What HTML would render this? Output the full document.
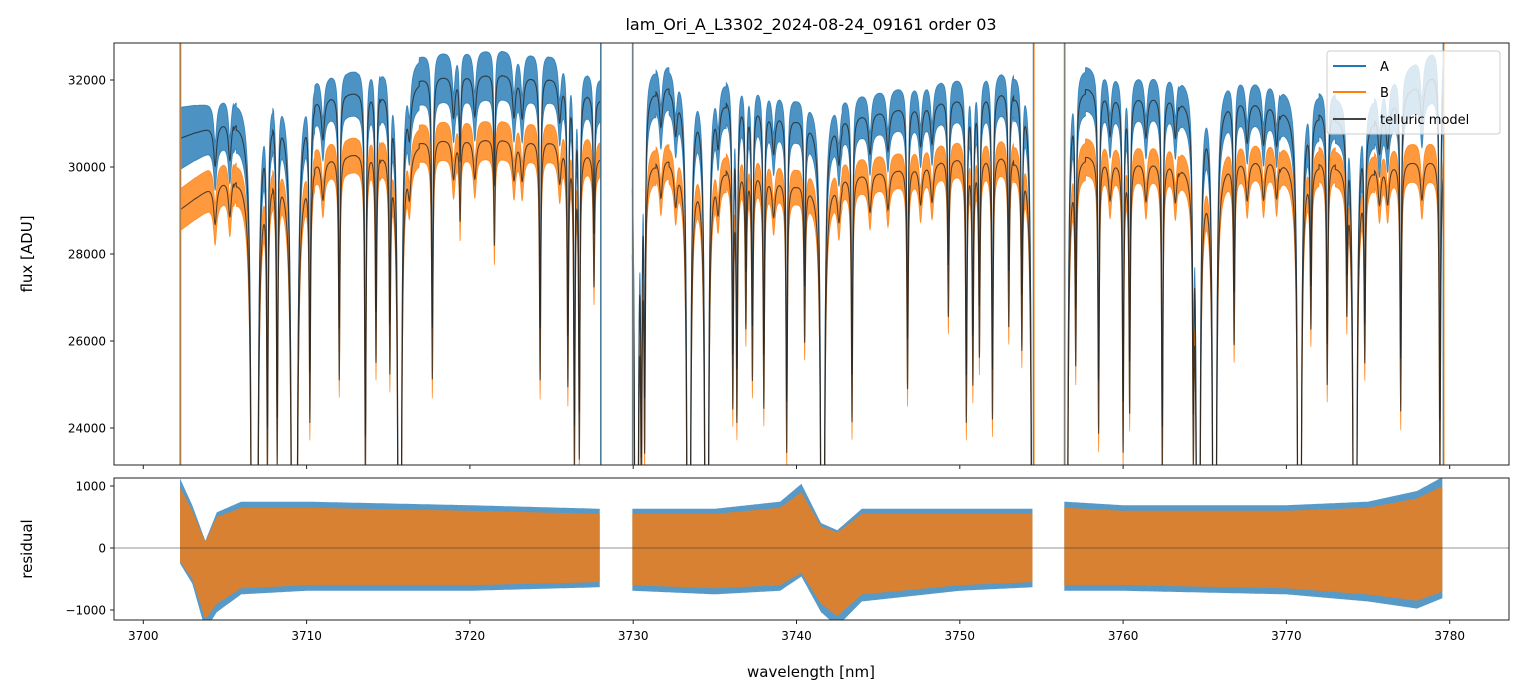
<!DOCTYPE html>
<html><head><meta charset="utf-8"><style>
html,body{margin:0;padding:0;background:#fff;overflow:hidden;width:1523px;height:696px;}
svg{display:block;}
svg text{font-family:"DejaVu Sans","Liberation Sans",sans-serif;fill:#000;}
</style></head><body>
<svg id="c" width="1523" height="696" xmlns="http://www.w3.org/2000/svg">
<rect width="1523" height="696" fill="#fff"/>
<text x="811" y="30" font-size="16" text-anchor="middle">lam_Ori_A_L3302_2024-08-24_09161  order 03</text>
<defs>
<clipPath id="cTop"><rect x="114" y="43" width="1395" height="422"/></clipPath>
<clipPath id="cBot"><rect x="114" y="478" width="1395" height="142"/></clipPath>
</defs>
<g id="topG" clip-path="url(#cTop)"></g>
<g id="botG" clip-path="url(#cBot)"></g>
<g id="axesG"></g>
<text x="0" y="0" font-size="15" text-anchor="middle" transform="translate(32,254) rotate(-90)">flux [ADU]</text>
<text x="0" y="0" font-size="15" text-anchor="middle" transform="translate(32,549) rotate(-90)">residual</text>
<text x="811" y="677" font-size="15" text-anchor="middle">wavelength [nm]</text>
<g>
<rect x="1327" y="51" width="173" height="83" rx="3" fill="#fff" fill-opacity="0.8" stroke="#ccc"/>
<line x1="1333" y1="66" x2="1366" y2="66" stroke="#1f77b4" stroke-width="2"/>
<text x="1380" y="71" font-size="13">A</text>
<line x1="1333" y1="92" x2="1366" y2="92" stroke="#ff7f0e" stroke-width="2"/>
<text x="1380" y="97" font-size="13">B</text>
<line x1="1333" y1="119" x2="1366" y2="119" stroke="#444" stroke-width="2"/>
<text x="1380" y="124" font-size="13">telluric model</text>
</g>
</svg>
<script>
// ---- data ----
const segments = [[3702.25,3728.0],[3729.95,3754.5],[3756.4,3779.6]];
const lineWl =    [3706.73,3706.9,3707.6,3708.2,3709.2,3709.3,3710.2,3712.0,3713.6,3714.25,3715.1,3715.7,3717.7,3719.4,3721.5,3724.3,3726.0,3726.4,3726.7,3727.6,
                   3730.2,3730.5,3730.7,3733.4,3734.5,3736.1,3736.35,3736.9,3737.3,3738.0,3739.4,3740.5,3741.6,3743.4,3746.8,3749.3,3750.4,3750.8,3751.2,3752.0,3753.0,3753.8,3754.5,
                   3756.5,3757.1,3758.5,3760.0,3760.4,3762.4,3764.3,3764.6,3765.6,3766.8,3770.8,3771.5,3772.5,3773.7,3774.2,3774.8,3777.0,3779.4,
                   3704.4,3705.3,3711.0,3716.3,3719.0,3720.3,3722.7,3723.2,3725.5,3731.7,3732.6,3735.2,3738.6,3742.6,3744.5,3745.6,3747.6,3748.3,3755.0,3759.2,3761.4,3763.2,3767.6,3768.6,3769.4,3775.7,3776.2,3778.3];
const lineDepth = [1.0,1.0,0.22,0.22,1.0,1.0,0.19,0.17,0.25,0.16,0.16,1.0,0.18,0.06,0.08,0.18,0.18,0.24,0.23,0.10,
                   1.0,0.22,0.2,1.0,1.0,0.18,0.19,0.12,0.16,0.18,0.21,0.12,1.0,0.19,0.17,0.12,0.2,0.17,0.15,0.2,0.13,0.14,1.0,
                   1.0,0.15,0.21,0.22,0.19,0.24,0.19,1.0,1.0,0.14,1.0,0.12,0.17,0.1,1.0,0.14,0.19,0.25,
                   0.03,0.03,0.03,0.03,0.03,0.03,0.03,0.03,0.03,0.03,0.03,0.03,0.03,0.03,0.03,0.03,0.03,0.03,0.03,0.03,0.03,0.03,0.03,0.03,0.03,0.03,0.03,0.03];
const contWl = [3702.2,3704,3706,3710,3714,3718,3722,3726,3728,3730,3733,3737,3740,3743,3746,3750,3754.5,3756.4,3760,3765,3770,3775,3778,3779.6];
const contA  = [30650,30900,31200,31550,31800,32100,32150,32050,31550,31900,31900,31500,31100,31150,31350,31600,31850,31950,31650,31650,31400,31100,31900,32300];
const contB  = [29000,29500,29900,30100,30400,30650,30650,30600,30200,30250,30200,30000,29600,29800,29950,30250,30300,30350,30150,30100,30200,30050,30150,30200];
const noiseA = [900,700,650,600,650,700,700,650,600,650,600,600,600,600,600,600,600,650,600,600,600,650,700,700];
const noiseB = [600,600,550,500,500,550,550,550,500,500,500,500,500,500,500,500,500,550,500,500,500,500,550,550];
const resWl =  [3702.2,3703,3703.8,3704.5,3706,3710,3720,3728, 3730,3735,3739,3740.3,3741.5,3742.5,3744,3750,3754.5, 3756.4,3760,3770,3775,3778,3779.6];
const resUp =  [1000,600,100,500,650,650,600,550, 550,550,650,900,350,250,550,550,550, 650,600,600,650,800,1000];
const resLo =  [-200,-500,-1150,-900,-650,-600,-600,-550, -600,-650,-600,-400,-900,-1100,-750,-600,-550, -600,-600,-650,-750,-850,-700];
const xTicks = [3700,3710,3720,3730,3740,3750,3760,3770,3780];
const yTicksTop = [24000,26000,28000,30000,32000];
const yTicksBot = [-1000,0,1000];
// ---- scales ----
const X = w => 143.3 + (w-3700)*16.33;
const YT = v => 80 + (32000-v)*0.0435;
const YB = v => 548 - v*0.062;
function interp(xs,ys,x){ if(x<=xs[0])return ys[0]; for(let i=1;i<xs.length;i++){ if(x<=xs[i]){const t=(x-xs[i-1])/(xs[i]-xs[i-1]);return ys[i-1]+t*(ys[i]-ys[i-1]);} } return ys[ys.length-1]; }
function trans(w){ let t=1; for(let i=0;i<lineWl.length;i++){ const d=w-lineWl[i]; if(Math.abs(d)>1.2)continue; const dep=lineDepth[i]; const g=dep>=1?0.07:(dep<0.05?0.11:0.05); t*=1-Math.min(dep>=1?1.05:dep,1)/(1+(d/g)*(d/g)); } return Math.max(t,0); }
const NS='http://www.w3.org/2000/svg';
function el(tag,attrs,parent){ const e=document.createElementNS(NS,tag); for(const k in attrs)e.setAttribute(k,attrs[k]); parent.appendChild(e); return e; }
const topGrp=document.getElementById('topG'), botGrp=document.getElementById('botG'), axesGrp=document.getElementById('axesG');
const step=0.01;
function bandPath(seg,cont,noise,fac){ let up=[],lo=[]; for(let w=seg[0];w<=seg[1];w+=step){ const c=interp(contWl,cont,w), t=trans(w), n=interp(contWl,noise,w)*fac; up.push(X(w).toFixed(2)+','+YT(c*t+n).toFixed(1)); lo.push(X(w).toFixed(2)+','+YT(c*t-n).toFixed(1)); } return 'M'+up.join('L')+'L'+lo.reverse().join('L')+'Z'; }
function modelPath(seg,cont){ let p=[]; for(let w=seg[0];w<=seg[1];w+=step){ p.push(X(w).toFixed(2)+','+YT(interp(contWl,cont,w)*trans(w)).toFixed(1)); } return 'M'+p.join('L'); }
segments.forEach((s,i)=>{
  const a=el('path',{d:bandPath(s,contA,noiseA,0.8),fill:'#1f77b4','fill-opacity':0.8,stroke:'#1f77b4','stroke-width':0.8,'stroke-opacity':0.8},topGrp);
  
  
  const b=el('path',{d:bandPath(s,contB,noiseB,0.8),fill:'#ff7f0e','fill-opacity':0.8,stroke:'#ff7f0e','stroke-width':0.8,'stroke-opacity':0.8},topGrp);
  
  
  [contA,contB].forEach((c,j)=>{
    const m=el('path',{d:modelPath(s,c),fill:'none',stroke:'#222','stroke-width':1.1,'stroke-opacity':0.75},topGrp);
    
    
  });
  [s[0],s[1]].forEach(w=>{
    const e1=el('line',{x1:X(w),x2:X(w),y1:43,y2:465,stroke:'#1f77b4','stroke-width':1},topGrp);
    
    
    const e2=el('line',{x1:X(w)+0.8,x2:X(w)+0.8,y1:43,y2:465,stroke:'#ff7f0e','stroke-width':1},topGrp);
    
    
  });
});
function resPath(seg,fac){ let up=[],lo=[]; for(let w=seg[0];w<=seg[1];w+=0.05){ up.push(X(w).toFixed(2)+','+YB(interp(resWl,resUp,w)*fac).toFixed(1)); lo.push(X(w).toFixed(2)+','+YB(interp(resWl,resLo,w)*fac).toFixed(1)); } return 'M'+up.join('L')+'L'+lo.reverse().join('L')+'Z'; }
segments.forEach((s,i)=>{
  const a=el('path',{d:resPath(s,1.15),fill:'#1f77b4','fill-opacity':0.75},botGrp);
  
  
  const b=el('path',{d:resPath(s,1.0),fill:'#e07f2a','fill-opacity':0.95},botGrp);
  
  
});
const z=el('line',{x1:114,x2:1509,y1:YB(0),y2:YB(0),stroke:'#333','stroke-width':0.8,'stroke-opacity':0.7},botGrp);


[[43,465],[478,620]].forEach((r,i)=>{
  const f=el('rect',{x:114,y:r[0],width:1395,height:r[1]-r[0],fill:'none',stroke:'#222','stroke-width':1},axesGrp);
  
  
});
xTicks.forEach(t=>{
  const x=X(t);
  el('line',{x1:x,x2:x,y1:465,y2:469,stroke:'#222'},axesGrp);
  el('line',{x1:x,x2:x,y1:620,y2:624,stroke:'#222'},axesGrp);
  const tx=el('text',{x:x,y:640,'font-size':12,'text-anchor':'middle'},axesGrp);
  tx.textContent=t;
  
  
});
yTicksTop.forEach(t=>{
  const y=YT(t);
  el('line',{x1:110,x2:114,y1:y,y2:y,stroke:'#222'},axesGrp);
  const tx=el('text',{x:106,y:y+4.5,'font-size':12,'text-anchor':'end'},axesGrp);
  tx.textContent=t;
  
  
});
yTicksBot.forEach(t=>{
  const y=YB(t);
  el('line',{x1:110,x2:114,y1:y,y2:y,stroke:'#222'},axesGrp);
  const tx=el('text',{x:106,y:y+4.5,'font-size':12,'text-anchor':'end'},axesGrp);
  tx.textContent=t<0?'\u2212'+(-t):t;
  
  
});
</script>
</body></html>
